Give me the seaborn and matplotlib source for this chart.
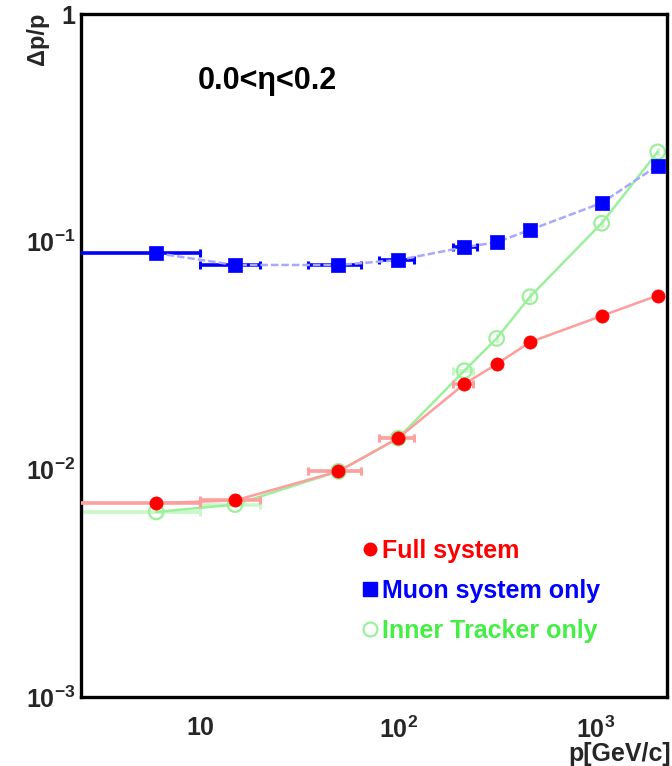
import numpy as np
import pandas as pd
import matplotlib
matplotlib.use("Agg")
import matplotlib.pyplot as plt
import seaborn as sns
from matplotlib.ticker import LogLocator, FixedLocator, NullFormatter
from matplotlib.lines import Line2D

sns.set_theme(style="white")
plt.rcParams['font.family'] = ['Liberation Sans', 'DejaVu Sans']
plt.rcParams['font.weight'] = 'bold'
plt.rcParams['mathtext.fontset'] = 'custom'
plt.rcParams['mathtext.rm'] = 'Liberation Sans:bold'
plt.rcParams['mathtext.it'] = 'Liberation Sans:bold:italic'
plt.rcParams['mathtext.bf'] = 'Liberation Sans:bold'
plt.rcParams['mathtext.default'] = 'rm'

# ---- data ----
p_full = [6, 15, 50, 100, 216, 315, 464, 1069, 2050]
res_full = [0.0071, 0.0073, 0.0098, 0.0137, 0.0237, 0.029, 0.0362, 0.0472, 0.058]
full_lo = [2, 10, 35, 80, 190, 315, 464, 1069, 2050]
full_hi = [10, 20, 65, 120, 240, 315, 464, 1069, 2050]

p_muon = [6, 15, 50, 100, 216, 315, 464, 1069, 2050]
res_muon = [0.089, 0.079, 0.079, 0.083, 0.0945, 0.0994, 0.1126, 0.148, 0.216]
muon_lo = [2, 10, 35, 80, 190, 315, 450, 1069, 2050]
muon_hi = [10, 20, 65, 120, 250, 315, 475, 1069, 2050]

p_inner = [6, 15, 50, 100, 216, 315, 464, 1069, 2050]
res_inner = [0.0065, 0.0070, 0.0098, 0.0137, 0.0271, 0.0376, 0.0573, 0.1205, 0.248]
inner_lo = [2, 10, 35, 80, 190, 315, 464, 1069, 2050]
inner_hi = [10, 20, 65, 120, 240, 315, 464, 1069, 2050]

labels = ["Full system", "Muon system only", "Inner Tracker only"]
x_ticks = [10, 100, 1000]
x_ticklabels = ["10", "$10^{2}$", "$10^{3}$"]
y_ticks = [0.001, 0.01, 0.1, 1]
y_ticklabels = ["$10^{-3}$", "$10^{-2}$", "$10^{-1}$", "1"]
eta_text = "0.0<η<0.2"

df = pd.concat([
    pd.DataFrame({"p": p_full, "res": res_full, "lo": full_lo, "hi": full_hi, "series": labels[0]}),
    pd.DataFrame({"p": p_muon, "res": res_muon, "lo": muon_lo, "hi": muon_hi, "series": labels[1]}),
    pd.DataFrame({"p": p_inner, "res": res_inner, "lo": inner_lo, "hi": inner_hi, "series": labels[2]}),
], ignore_index=True)

strong = {labels[0]: "#ff0000", labels[1]: "#0000ff", labels[2]: "#44ee44"}
light = {labels[0]: "#ff9c9c", labels[1]: "#a8a8ff", labels[2]: "#9cf09c"}
bar_col = {labels[0]: "#ffa0a0", labels[1]: "#0000ff", labels[2]: "#c8f8c8"}

fig = plt.figure(figsize=(6.72, 7.66), dpi=100)
ax = fig.add_axes([81/672, 69/766, (667-81)/672, (697-14)/766])
ax.set_xscale("log")
ax.set_yscale("log")

order = [labels[2], labels[0], labels[1]]
z = {labels[2]: 2, labels[0]: 3, labels[1]: 4}
for s in order:
    d = df[df.series == s]
    ax.errorbar(d.p, d.res, xerr=[d.p - d.lo, d.hi - d.p], fmt='none',
                ecolor=bar_col[s], elinewidth=2.6, capsize=3, capthick=2.2, zorder=z[s])
    sns.lineplot(data=d, x="p", y="res", ax=ax, color=light[s], lw=1.8,
                 sort=False, estimator=None, legend=False, zorder=z[s],
                 linestyle=(0, (3, 1.2)) if s == labels[1] else '-')
    if s == labels[2]:
        sns.scatterplot(data=d, x="p", y="res", ax=ax, marker='o', s=110,
                        facecolor='none', edgecolor=light[s], linewidth=1.6,
                        legend=False, zorder=z[s] + 0.5)
    elif s == labels[0]:
        sns.scatterplot(data=d, x="p", y="res", ax=ax, marker='o', s=90,
                        color=strong[s], edgecolor=strong[s], linewidth=0.5,
                        legend=False, zorder=z[s] + 0.5)
    else:
        sns.scatterplot(data=d, x="p", y="res", ax=ax, marker='s', s=110,
                        color=strong[s], edgecolor=strong[s], linewidth=0.5,
                        legend=False, zorder=z[s] + 0.5)

ax.set_xlim(2.5, 2285)
ax.set_ylim(0.001, 1)
ax.set_xlabel("")
ax.set_ylabel("")

ax.xaxis.set_major_locator(FixedLocator(x_ticks))
ax.set_xticklabels(x_ticklabels)
ax.xaxis.set_minor_locator(LogLocator(base=10, subs=np.arange(2, 10)))
ax.xaxis.set_minor_formatter(NullFormatter())
ax.yaxis.set_major_locator(FixedLocator(y_ticks))
ax.set_yticklabels(y_ticklabels)
ax.yaxis.set_minor_locator(LogLocator(base=10, subs=np.arange(2, 10)))
ax.yaxis.set_minor_formatter(NullFormatter())

ax.tick_params(which='both', direction='in', top=False, right=False, color='black', width=2.2)
ax.tick_params(axis='x', which='major', length=12, labelsize=18, pad=14)
ax.tick_params(axis='x', which='minor', length=8)
ax.tick_params(axis='y', which='major', length=12, labelsize=18, pad=4)
ax.tick_params(axis='y', which='minor', length=6)
for sp in ax.spines.values():
    sp.set_visible(True)
    sp.set_color('black')
    sp.set_linewidth(2.4)

fig.text(198/672, 1-81/766, eta_text, fontsize=22, fontweight='bold',
         ha='left', va='center', color='black')
fig.text(38/672, 1-13/766, "Δp/p", rotation=90, ha='center', va='top',
         fontsize=17, fontweight='bold')
fig.text(671/672, (766-742)/766, "p[GeV/c]", ha='right', va='top',
         fontsize=18, fontweight='bold')

# legend
hl = [Line2D([], [], ls='none', marker='o', ms=9, color=strong[labels[0]]),
      Line2D([], [], ls='none', marker='s', ms=10, color=strong[labels[1]]),
      Line2D([], [], ls='none', marker='o', ms=10, mfc='none', mec=light[labels[2]], mew=1.6)]
leg = ax.legend(hl, labels, loc='upper left', bbox_to_anchor=((352-81)/586, (697-529)/683),
                frameon=False, handlelength=0.6, handletextpad=0.2,
                labelspacing=0.64, borderaxespad=0,
                prop={'size': 18, 'weight': 'bold'},
                labelcolor=[strong[labels[0]], strong[labels[1]], strong[labels[2]]])

fig.savefig("out.png", dpi=100)
